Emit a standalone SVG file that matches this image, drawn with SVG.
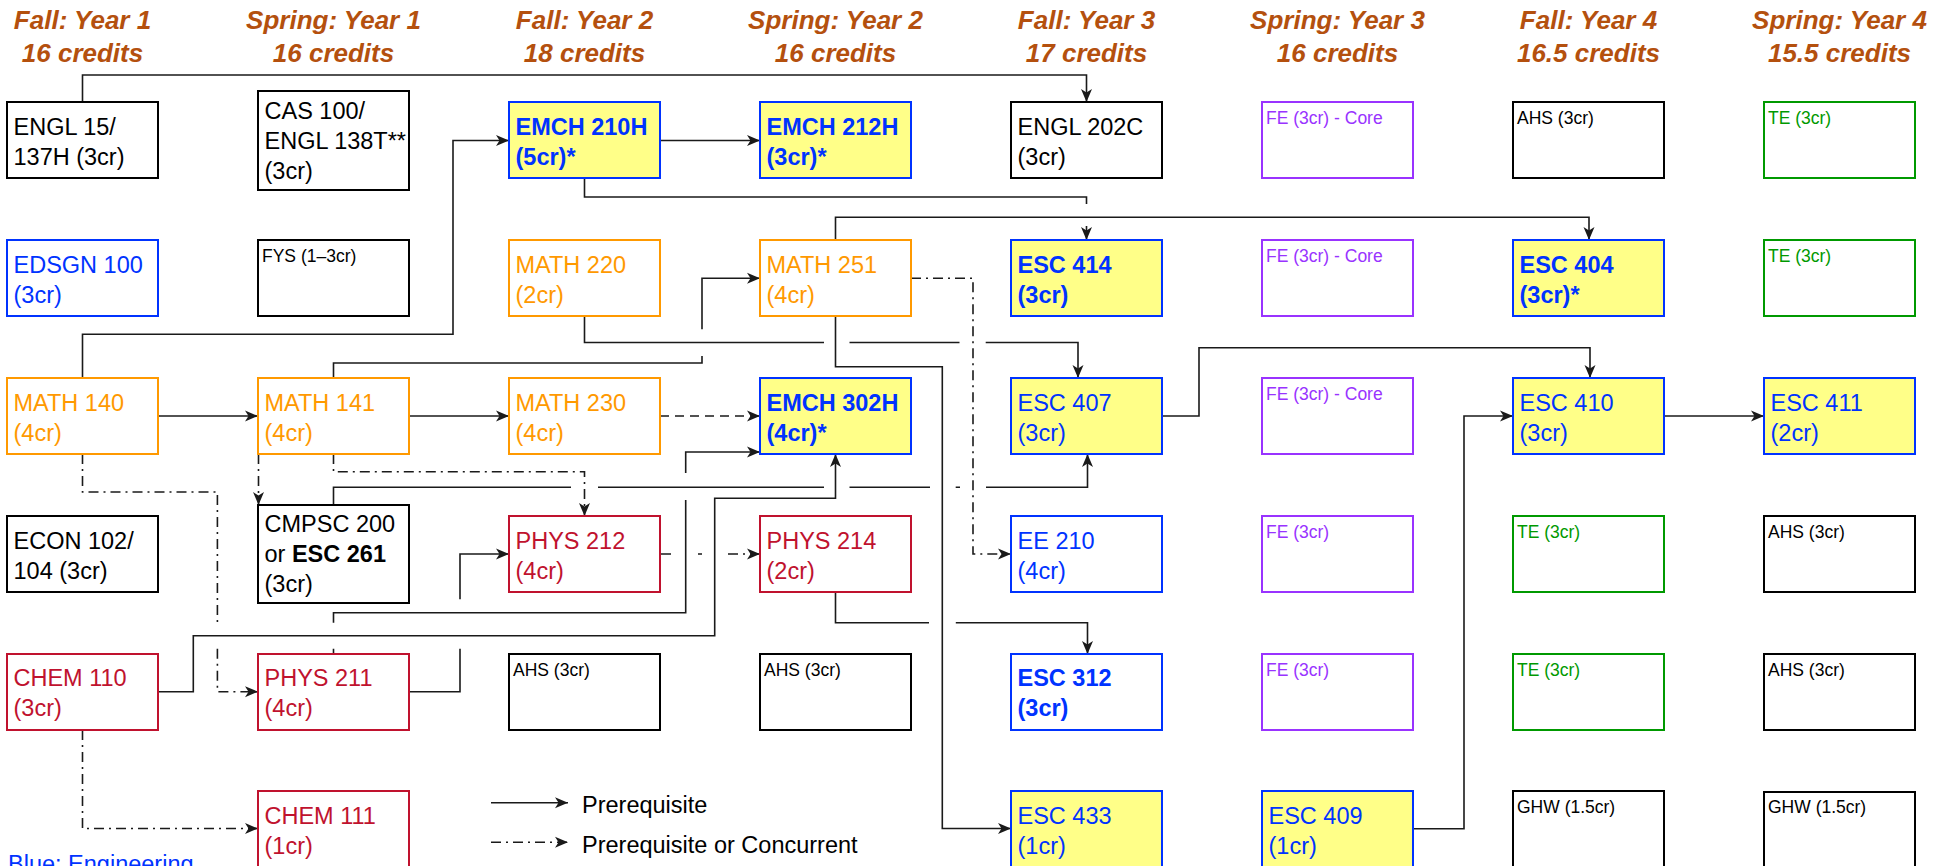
<svg xmlns="http://www.w3.org/2000/svg" width="1947" height="866" viewBox="0 0 1947 866">
<defs>
<style>
text{font-family:"Liberation Sans",Arial,Helvetica,sans-serif}
.bx{stroke-width:2}
.k{fill:#fff;stroke:#000}
.b{fill:#fff;stroke:#0033FF}
.y{fill:#FFFF88;stroke:#0033FF}
.o{fill:#fff;stroke:#FF9900}
.r{fill:#fff;stroke:#C0122E}
.p{fill:#fff;stroke:#9933FF}
.g{fill:#fff;stroke:#009900}
.kt{fill:#000}.bt{fill:#0033FF}.ot{fill:#FF9900}.rt{fill:#C0122E}.pt{fill:#9933FF}.gt{fill:#009900}
.n{font-size:23.5px}
.s{font-size:17.5px}
.bd{font-weight:bold}
.h{font-size:26px;font-weight:bold;font-style:italic;fill:#B4500E;text-anchor:middle}
.c{fill:none;stroke:#1a1a1a;stroke-width:1.6}
.dd{stroke-dasharray:10 5 2 5}
.da{stroke-dasharray:9 6}
</style>
<marker id="ar" markerUnits="userSpaceOnUse" markerWidth="14" markerHeight="12" refX="13" refY="6" orient="auto">
<path d="M0,0.5 L13,6 L0,11.5 L3.5,6 Z" fill="#1a1a1a"/>
</marker>
</defs>
<rect width="1947" height="866" fill="#fff"/>

<g id="headings">
<text class="h" x="82.5" y="29">Fall: Year 1</text><text class="h" x="82.5" y="62">16 credits</text>
<text class="h" x="333.5" y="29">Spring: Year 1</text><text class="h" x="333.5" y="62">16 credits</text>
<text class="h" x="584.5" y="29">Fall: Year 2</text><text class="h" x="584.5" y="62">18 credits</text>
<text class="h" x="835.5" y="29">Spring: Year 2</text><text class="h" x="835.5" y="62">16 credits</text>
<text class="h" x="1086.5" y="29">Fall: Year 3</text><text class="h" x="1086.5" y="62">17 credits</text>
<text class="h" x="1337.5" y="29">Spring: Year 3</text><text class="h" x="1337.5" y="62">16 credits</text>
<text class="h" x="1588.5" y="29">Fall: Year 4</text><text class="h" x="1588.5" y="62">16.5 credits</text>
<text class="h" x="1839.5" y="29">Spring: Year 4</text><text class="h" x="1839.5" y="62">15.5 credits</text>
</g>

<g id="connectors">
<path class="c" marker-end="url(#ar)" d="M82.5,102 V75 H1086.5 V102"/>
<path class="c" marker-end="url(#ar)" d="M82.5,378 V334.3 H453 V140.5 H509"/>
<path class="c" marker-end="url(#ar)" d="M660,140.5 H760"/>
<path class="c" marker-end="url(#ar)" d="M584.5,178 V197 H1086.5 V204 M1086.5,226 V240"/>
<path class="c" marker-end="url(#ar)" d="M835.5,240 V217.3 H1589 V240"/>
<path class="c" marker-end="url(#ar)" d="M584.5,316 V342.5 H824 M849.5,342.5 H959.5 M985.7,342.5 H1078 V378"/>
<path class="c" marker-end="url(#ar)" d="M835.5,316 V366.7 H942.3 V828.5 H1011"/>
<path class="c dd" marker-end="url(#ar)" d="M911,278.3 H973 V554 H1011"/>
<path class="c" marker-end="url(#ar)" d="M158,416 H258"/>
<path class="c" marker-end="url(#ar)" d="M409,416 H509"/>
<path class="c da" marker-end="url(#ar)" d="M660,416 H760"/>
<path class="c" marker-end="url(#ar)" d="M333.5,378 V363 H702 V356 M702,329.3 V278.3 H760"/>
<path class="c dd" marker-end="url(#ar)" d="M258.5,454 V505"/>
<path class="c dd" marker-end="url(#ar)" d="M333.5,454 V471.7 H584.5 V516"/>
<path class="c dd" marker-end="url(#ar)" d="M82.5,454 V492 H217.4 V622.7 M217.4,648.7 V691.7 H258"/>
<path class="c dd" marker-end="url(#ar)" d="M82.5,730 V828.5 H258"/>
<path class="c" marker-end="url(#ar)" d="M333.5,505 V487.3 H571 M598,487.3 H824 M849.5,487.3 H930 M955.7,487.3 H960 M986,487.3 H1087.5 V454"/>
<path class="c" marker-end="url(#ar)" d="M409,691.7 H460 V648.7 M460,599.3 V554 H509"/>
<path class="c" marker-end="url(#ar)" d="M333.5,654 V648.7 M333.5,622.7 V612.7 H685.7 V500 M685.7,473 V452 H760"/>
<path class="c" marker-end="url(#ar)" d="M158,691.7 H193.3 V635.7 H714.7 V498.3 H835.5 V454"/>
<path class="c dd" marker-end="url(#ar)" d="M661,554 H672 M698,554 H702 M728,554 H760"/>
<path class="c" marker-end="url(#ar)" d="M835.5,592 V622.7 H929 M955.8,622.7 H1087.5 V654"/>
<path class="c" marker-end="url(#ar)" d="M1163,416 H1199 V347.7 H1590 V378"/>
<path class="c" marker-end="url(#ar)" d="M1414,828.7 H1464 V416 H1513"/>
<path class="c" marker-end="url(#ar)" d="M1665,416 H1764"/>
</g>

<!-- Column 1 -->
<g id="n-engl15"><rect class="bx k" x="7" y="102" width="151" height="76"/><text class="n kt" x="13.5" y="134.5">ENGL 15/</text><text class="n kt" x="13.5" y="164.5">137H (3cr)</text></g>
<g id="n-edsgn100"><rect class="bx b" x="7" y="240" width="151" height="76"/><text class="n bt" x="13.5" y="272.5">EDSGN 100</text><text class="n bt" x="13.5" y="302.5">(3cr)</text></g>
<g id="n-math140"><rect class="bx o" x="7" y="378" width="151" height="76"/><text class="n ot" x="13.5" y="410.5">MATH 140</text><text class="n ot" x="13.5" y="440.5">(4cr)</text></g>
<g id="n-econ102"><rect class="bx k" x="7" y="516" width="151" height="76"/><text class="n kt" x="13.5" y="548.5">ECON 102/</text><text class="n kt" x="13.5" y="578.5">104 (3cr)</text></g>
<g id="n-chem110"><rect class="bx r" x="7" y="654" width="151" height="76"/><text class="n rt" x="13.5" y="686">CHEM 110</text><text class="n rt" x="13.5" y="716">(3cr)</text></g>

<!-- Column 2 -->
<g id="n-cas100"><rect class="bx k" x="258" y="91" width="151" height="99"/><text class="n kt" x="264.5" y="119">CAS 100/</text><text class="n kt" x="264.5" y="149">ENGL 138T**</text><text class="n kt" x="264.5" y="179">(3cr)</text></g>
<g id="n-fys"><rect class="bx k" x="258" y="240" width="151" height="76"/><text class="s kt" x="262" y="262">FYS (1–3cr)</text></g>
<g id="n-math141"><rect class="bx o" x="258" y="378" width="151" height="76"/><text class="n ot" x="264.5" y="410.5">MATH 141</text><text class="n ot" x="264.5" y="440.5">(4cr)</text></g>
<g id="n-cmpsc200"><rect class="bx k" x="258" y="505" width="151" height="98"/><text class="n kt" x="264.5" y="532">CMPSC 200</text><text class="n kt" x="264.5" y="562">or <tspan class="bd">ESC 261</tspan></text><text class="n kt" x="264.5" y="592">(3cr)</text></g>
<g id="n-phys211"><rect class="bx r" x="258" y="654" width="151" height="76"/><text class="n rt" x="264.5" y="686">PHYS 211</text><text class="n rt" x="264.5" y="716">(4cr)</text></g>
<g id="n-chem111"><rect class="bx r" x="258" y="791" width="151" height="76"/><text class="n rt" x="264.5" y="823.5">CHEM 111</text><text class="n rt" x="264.5" y="853.5">(1cr)</text></g>

<!-- Column 3 -->
<g id="n-emch210h"><rect class="bx y" x="509" y="102" width="151" height="76"/><text class="n bt bd" x="515.5" y="134.5">EMCH 210H</text><text class="n bt bd" x="515.5" y="164.5">(5cr)*</text></g>
<g id="n-math220"><rect class="bx o" x="509" y="240" width="151" height="76"/><text class="n ot" x="515.5" y="272.5">MATH 220</text><text class="n ot" x="515.5" y="302.5">(2cr)</text></g>
<g id="n-math230"><rect class="bx o" x="509" y="378" width="151" height="76"/><text class="n ot" x="515.5" y="410.5">MATH 230</text><text class="n ot" x="515.5" y="440.5">(4cr)</text></g>
<g id="n-phys212"><rect class="bx r" x="509" y="516" width="151" height="76"/><text class="n rt" x="515.5" y="548.5">PHYS 212</text><text class="n rt" x="515.5" y="578.5">(4cr)</text></g>
<g id="n-ahs-y2f"><rect class="bx k" x="509" y="654" width="151" height="76"/><text class="s kt" x="513" y="676">AHS (3cr)</text></g>

<!-- Column 4 -->
<g id="n-emch212h"><rect class="bx y" x="760" y="102" width="151" height="76"/><text class="n bt bd" x="766.5" y="134.5">EMCH 212H</text><text class="n bt bd" x="766.5" y="164.5">(3cr)*</text></g>
<g id="n-math251"><rect class="bx o" x="760" y="240" width="151" height="76"/><text class="n ot" x="766.5" y="272.5">MATH 251</text><text class="n ot" x="766.5" y="302.5">(4cr)</text></g>
<g id="n-emch302h"><rect class="bx y" x="760" y="378" width="151" height="76"/><text class="n bt bd" x="766.5" y="410.5">EMCH 302H</text><text class="n bt bd" x="766.5" y="440.5">(4cr)*</text></g>
<g id="n-phys214"><rect class="bx r" x="760" y="516" width="151" height="76"/><text class="n rt" x="766.5" y="548.5">PHYS 214</text><text class="n rt" x="766.5" y="578.5">(2cr)</text></g>
<g id="n-ahs-y2s"><rect class="bx k" x="760" y="654" width="151" height="76"/><text class="s kt" x="764" y="676">AHS (3cr)</text></g>

<!-- Column 5 -->
<g id="n-engl202c"><rect class="bx k" x="1011" y="102" width="151" height="76"/><text class="n kt" x="1017.5" y="134.5">ENGL 202C</text><text class="n kt" x="1017.5" y="164.5">(3cr)</text></g>
<g id="n-esc414"><rect class="bx y" x="1011" y="240" width="151" height="76"/><text class="n bt bd" x="1017.5" y="272.5">ESC 414</text><text class="n bt bd" x="1017.5" y="302.5">(3cr)</text></g>
<g id="n-esc407"><rect class="bx y" x="1011" y="378" width="151" height="76"/><text class="n bt" x="1017.5" y="410.5">ESC 407</text><text class="n bt" x="1017.5" y="440.5">(3cr)</text></g>
<g id="n-ee210"><rect class="bx b" x="1011" y="516" width="151" height="76"/><text class="n bt" x="1017.5" y="548.5">EE 210</text><text class="n bt" x="1017.5" y="578.5">(4cr)</text></g>
<g id="n-esc312"><rect class="bx b" x="1011" y="654" width="151" height="76"/><text class="n bt bd" x="1017.5" y="686">ESC 312</text><text class="n bt bd" x="1017.5" y="716">(3cr)</text></g>
<g id="n-esc433"><rect class="bx y" x="1011" y="791" width="151" height="76"/><text class="n bt" x="1017.5" y="823.5">ESC 433</text><text class="n bt" x="1017.5" y="853.5">(1cr)</text></g>

<!-- Column 6 -->
<g id="n-fe1"><rect class="bx p" x="1262" y="102" width="151" height="76"/><text class="s pt" x="1266" y="124">FE (3cr) - Core</text></g>
<g id="n-fe2"><rect class="bx p" x="1262" y="240" width="151" height="76"/><text class="s pt" x="1266" y="262">FE (3cr) - Core</text></g>
<g id="n-fe3"><rect class="bx p" x="1262" y="378" width="151" height="76"/><text class="s pt" x="1266" y="400">FE (3cr) - Core</text></g>
<g id="n-fe4"><rect class="bx p" x="1262" y="516" width="151" height="76"/><text class="s pt" x="1266" y="538">FE (3cr)</text></g>
<g id="n-fe5"><rect class="bx p" x="1262" y="654" width="151" height="76"/><text class="s pt" x="1266" y="676">FE (3cr)</text></g>
<g id="n-esc409"><rect class="bx y" x="1262" y="791" width="151" height="76"/><text class="n bt" x="1268.5" y="823.5">ESC 409</text><text class="n bt" x="1268.5" y="853.5">(1cr)</text></g>

<!-- Column 7 -->
<g id="n-ahs-y4f"><rect class="bx k" x="1513" y="102" width="151" height="76"/><text class="s kt" x="1517" y="124">AHS (3cr)</text></g>
<g id="n-esc404"><rect class="bx y" x="1513" y="240" width="151" height="76"/><text class="n bt bd" x="1519.5" y="272.5">ESC 404</text><text class="n bt bd" x="1519.5" y="302.5">(3cr)*</text></g>
<g id="n-esc410"><rect class="bx y" x="1513" y="378" width="151" height="76"/><text class="n bt" x="1519.5" y="410.5">ESC 410</text><text class="n bt" x="1519.5" y="440.5">(3cr)</text></g>
<g id="n-te1"><rect class="bx g" x="1513" y="516" width="151" height="76"/><text class="s gt" x="1517" y="538">TE (3cr)</text></g>
<g id="n-te2"><rect class="bx g" x="1513" y="654" width="151" height="76"/><text class="s gt" x="1517" y="676">TE (3cr)</text></g>
<g id="n-ghw1"><rect class="bx k" x="1513" y="791" width="151" height="76"/><text class="s kt" x="1517" y="813">GHW (1.5cr)</text></g>

<!-- Column 8 -->
<g id="n-te3"><rect class="bx g" x="1764" y="102" width="151" height="76"/><text class="s gt" x="1768" y="124">TE (3cr)</text></g>
<g id="n-te4"><rect class="bx g" x="1764" y="240" width="151" height="76"/><text class="s gt" x="1768" y="262">TE (3cr)</text></g>
<g id="n-esc411"><rect class="bx y" x="1764" y="378" width="151" height="76"/><text class="n bt" x="1770.5" y="410.5">ESC 411</text><text class="n bt" x="1770.5" y="440.5">(2cr)</text></g>
<g id="n-ahs-y4s1"><rect class="bx k" x="1764" y="516" width="151" height="76"/><text class="s kt" x="1768" y="538">AHS (3cr)</text></g>
<g id="n-ahs-y4s2"><rect class="bx k" x="1764" y="654" width="151" height="76"/><text class="s kt" x="1768" y="676">AHS (3cr)</text></g>
<g id="n-ghw2"><rect class="bx k" x="1764" y="792" width="151" height="76"/><text class="s kt" x="1768" y="813">GHW (1.5cr)</text></g>

<g id="legend">
<path class="c" marker-end="url(#ar)" d="M491,802.7 H568"/>
<text class="n kt" x="582" y="813">Prerequisite</text>
<path class="c dd" marker-end="url(#ar)" d="M491,842.3 H568"/>
<text class="n kt" x="582" y="853">Prerequisite or Concurrent</text>
<text class="n bt" x="8" y="872">Blue: Engineering</text>
</g>
</svg>
